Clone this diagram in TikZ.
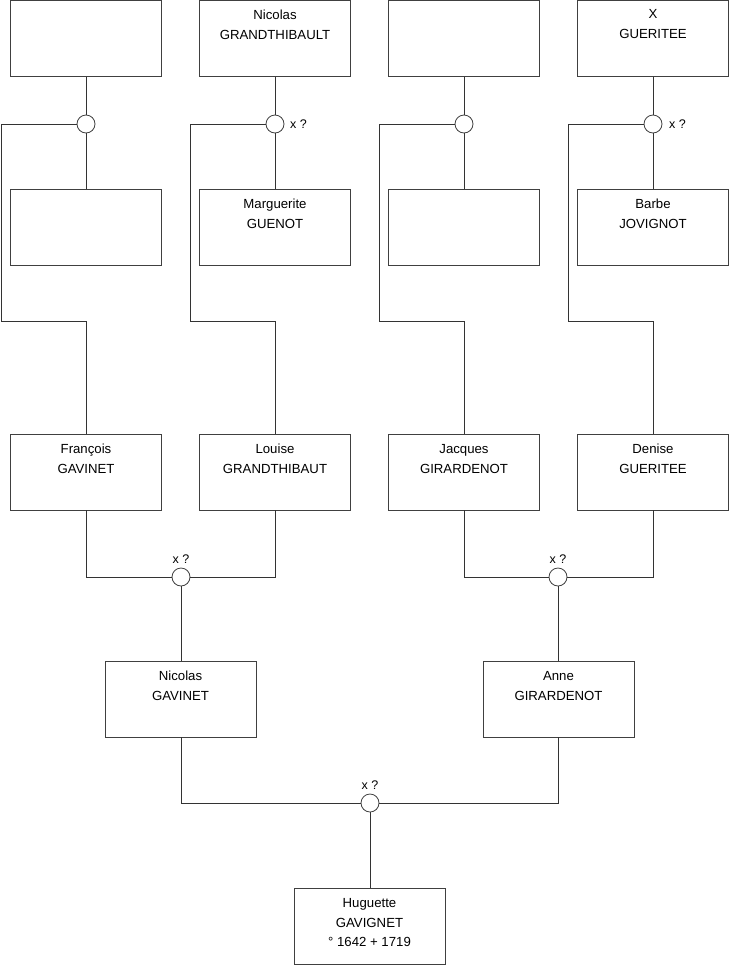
\documentclass[tikz,border=0pt]{standalone}
\usepackage{fontspec}
\setmainfont{Liberation Sans}
\begin{document}
\begin{tikzpicture}[x=1pt,y=-1pt,
  person/.style={draw=black!75,line width=0.8pt,minimum width=151pt,minimum height=76pt,inner sep=0pt},
  ptext/.style={anchor=north,align=center,font=\fontsize{13.2}{19.8}\selectfont,inner sep=0pt},
  union/.style={circle,draw=black!75,line width=0.8pt,minimum size=18pt,inner sep=0pt,fill=white},
  link/.style={line width=0.8pt,black!80},
  xq/.style={font=\fontsize{12.5}{14}\selectfont,inner sep=0pt}]
\useasboundingbox (0,0) rectangle (740,975);
% row 1
\node[person] (a1) at (86,38.5) {};
\node[person] (a2) at (275,38.5) {};
\node[person] (a3) at (464,38.5) {};
\node[person] (a4) at (653,38.5) {};
\node[ptext] (a2t) at (275,9.5) {Nicolas\\GRANDTHIBAULT};
\node[ptext] (a4t) at (653,9.5) {X\\GUERITEE};
% unions row 1
\node[union] (u1) at (86,124) {};
\node[union] (u2) at (275,124) {};
\node[union] (u3) at (464,124) {};
\node[union] (u4) at (653,124) {};
\node[xq,anchor=west] (x2) at (290,124) {x ?};
\node[xq,anchor=west] (x4) at (669,124) {x ?};
% row 2
\node[person] (b1) at (86,227) {};
\node[person] (b2) at (275,227) {};
\node[person] (b3) at (464,227) {};
\node[person] (b4) at (653,227) {};
\node[ptext] (b2t) at (275,199) {Marguerite\\GUENOT};
\node[ptext] (b4t) at (653,199) {Barbe\\JOVIGNOT};
% row 3
\node[person] (c1) at (86,472) {};
\node[person] (c2) at (275,472) {};
\node[person] (c3) at (464,472) {};
\node[person] (c4) at (653,472) {};
\node[ptext] (c1t) at (86,444) {François\\GAVINET};
\node[ptext] (c2t) at (275,444) {Louise\\GRANDTHIBAUT};
\node[ptext] (c3t) at (464,444) {Jacques\\GIRARDENOT};
\node[ptext] (c4t) at (653,444) {Denise\\GUERITEE};
% unions row 3
\node[union] (v1) at (181,577) {};
\node[union] (v2) at (558,577) {};
\node[xq,anchor=south] (y1) at (181,564) {x ?};
\node[xq,anchor=south] (y2) at (558,564) {x ?};
% row 4
\node[person] (d1) at (180.5,699) {};
\node[person] (d2) at (558.5,699) {};
\node[ptext] (d1t) at (180.5,671) {Nicolas\\GAVINET};
\node[ptext] (d2t) at (558.5,671) {Anne\\GIRARDENOT};
% bottom union
\node[union] (w) at (370,803) {};
\node[xq,anchor=south] (z) at (370,790) {x ?};
% bottom person
\node[person] (e) at (369.5,926) {};
\node[ptext] (et) at (369.5,898) {Huguette\\GAVIGNET\\° 1642 + 1719};
% connectors
\foreach \i in {1,2,3,4}{
  \draw[link] (a\i.south) -- (u\i.north);
  \draw[link] (u\i.south) -- (b\i.north);
}
\draw[link] (u1.west) -- (1.5,124) -- (1.5,321) -- (86,321) -- (c1.north);
\draw[link] (u2.west) -- (190.5,124) -- (190.5,321) -- (275,321) -- (c2.north);
\draw[link] (u3.west) -- (379.5,124) -- (379.5,321) -- (464,321) -- (c3.north);
\draw[link] (u4.west) -- (568.5,124) -- (568.5,321) -- (653,321) -- (c4.north);
\draw[link] (c1.south) |- (v1.west);
\draw[link] (c2.south) |- (v1.east);
\draw[link] (c3.south) |- (v2.west);
\draw[link] (c4.south) |- (v2.east);
\draw[link] (v1.south) -- (v1.south |- d1.north);
\draw[link] (v2.south) -- (v2.south |- d2.north);
\draw[link] (v1.south |- d1.south) |- (w.west);
\draw[link] (v2.south |- d2.south) |- (w.east);
\draw[link] (w.south) -- (w.south |- e.north);
\end{tikzpicture}
\end{document}
